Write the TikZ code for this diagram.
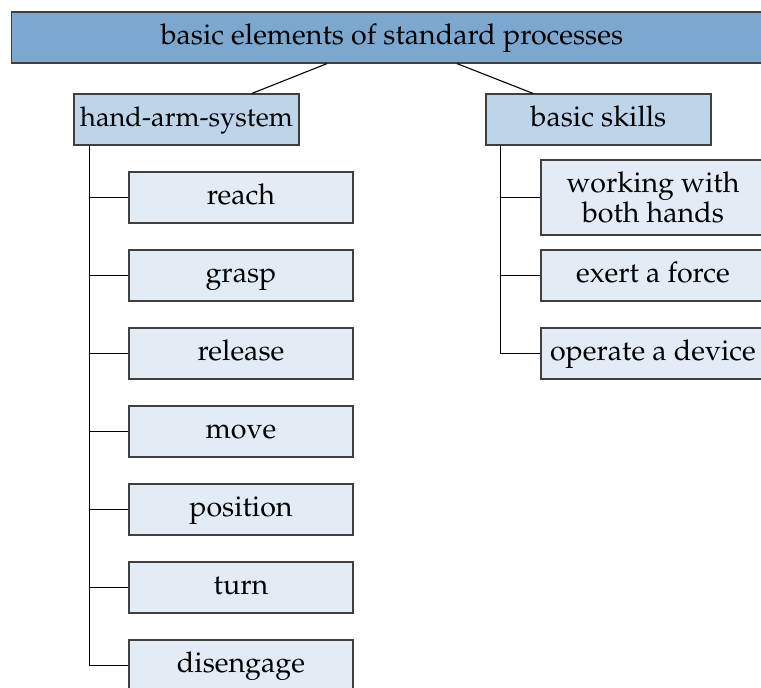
\documentclass[tikz,border=0pt]{standalone}
\usepackage[T1]{fontenc}
\usepackage{mathpazo}
\usepackage{tikz}

\definecolor{topblue}{RGB}{124,168,207}
\definecolor{midblue}{RGB}{190,212,233}
\definecolor{lowblue}{RGB}{227,236,245}

\tikzset{
  box/.style={draw=black!75, line width=0.4pt, inner xsep=0.5pt, inner ysep=2pt, minimum height=18.55pt,
    font=\fontsize{10.4}{11.5}\selectfont, text height=7.2pt, text depth=2.3pt},
  rootbox/.style={box, fill=topblue, minimum width=276.4pt},
  groupbox/.style={box, fill=midblue, minimum width=81.8pt},
  itembox/.style={box, fill=lowblue, minimum width=81.45pt, align=center},
  link/.style={draw=black, line width=0.4pt}
}

\begin{document}
\begin{tikzpicture}[x=0.3636pt, y=-0.3636pt]
  \useasboundingbox (0,0) rectangle (761,688);

  \node[rootbox] (root) at (392,37.5) {basic elements of standard processes};

  \node[groupbox, font=\fontsize{9.9}{11.5}\selectfont] (handarm) at (186.5,119.5) {hand-arm-system};
  \node[groupbox] (skills)  at (598.5,119.5) {basic skills};

  % left branch
  \node[itembox] (reach)     at (241,197.5) {reach};
  \node[itembox] (grasp)     at (241,275.5) {grasp};
  \node[itembox] (release)   at (241,353.5) {release};
  \node[itembox] (move)      at (241,431.5) {move};
  \node[itembox] (position)  at (241,509.5) {position};
  \node[itembox] (turn)      at (241,587.5) {turn};
  \node[itembox] (disengage) at (241,665.5) {disengage};

  % right branch
  \node[itembox, minimum height=27.3pt, text height=, text depth=] (bothhands) at (653,197.5) {working with\\[-0.5pt]both hands};
  \node[itembox] (force)  at (653,275.5) {exert a force};
  \node[itembox] (device) at (653,353.5) {operate a device};

  \draw[link] ([xshift=-23.6pt]root.south) -- ([xshift=23.8pt]handarm.north);
  \draw[link] ([xshift=23.6pt]root.south) -- ([xshift=-23.8pt]skills.north);

  \foreach \item in {reach,grasp,release,move,position,turn,disengage}
    \draw[link] ([xshift=5.8pt]handarm.south west) |- (\item.west);
  \foreach \item in {bothhands,force,device}
    \draw[link] ([xshift=5.45pt]skills.south west) |- (\item.west);
\end{tikzpicture}
\end{document}
